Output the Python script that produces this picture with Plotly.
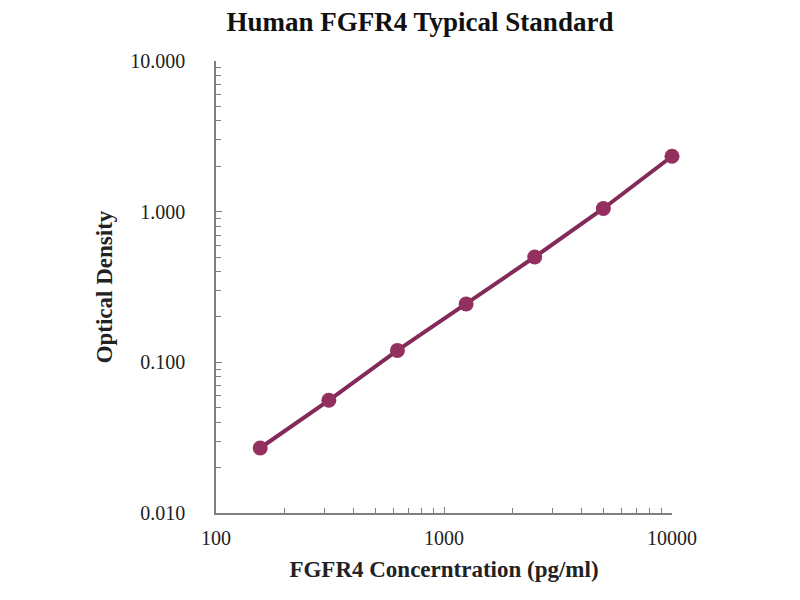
import plotly.graph_objects as go

# standard curve data
concentration = [156.25, 312.5, 625, 1250, 2500, 5000, 10000]
optical_density = [0.027, 0.056, 0.120, 0.244, 0.50, 1.05, 2.33]

x_ticks = [100, 1000, 10000]
x_ticktext = ['100', '1000', '10000']
y_ticks = [0.01, 0.1, 1, 10]
y_ticktext = ['0.010', '0.100', '1.000', '10.000']

line_color = '#842A58'
marker_color = '#93305F'
axis_color = '#808080'
serif = 'Liberation Serif, Times New Roman, serif'

fig = go.Figure()
fig.add_trace(go.Scatter(
    x=concentration, y=optical_density,
    mode='lines+markers',
    line=dict(color=line_color, width=4),
    marker=dict(color=marker_color, size=15),
    cliponaxis=False,
    showlegend=False,
))

# page body adds ~8px offset, margins compensate
fig.update_layout(
    width=800, height=600,
    paper_bgcolor='white', plot_bgcolor='white',
    margin=dict(l=208, r=136, t=53, b=95),
    font=dict(family=serif, color='#222222', size=20),
    title=dict(text='<b>Human FGFR4 Typical Standard</b>', x=0.515, xanchor='center',
               yref='container', y=0.978, yanchor='middle', font=dict(size=27, color='#111111')),
)

fig.update_xaxes(
    type='log', range=[2, 4],
    tickmode='array', tickvals=x_ticks, ticktext=x_ticktext,
    ticks='inside', ticklen=6, tickcolor=axis_color,
    showline=True, linecolor=axis_color, linewidth=1.5,
    showgrid=False, zeroline=False, ticklabelstandoff=6,
    minor=dict(ticks='inside', ticklen=5, tickcolor=axis_color, dtick='D1', showgrid=False),
    title=dict(text='<b>FGFR4 Concerntration (pg/ml)</b>', standoff=13, font=dict(size=23)),
)
fig.update_yaxes(
    type='log', range=[-2, 1],
    tickmode='array', tickvals=y_ticks, ticktext=y_ticktext,
    ticks='inside', ticklen=6, tickcolor=axis_color,
    showline=True, linecolor=axis_color, linewidth=1.5,
    showgrid=False, zeroline=False, ticklabelstandoff=25,
    minor=dict(ticks='inside', ticklen=5, tickcolor=axis_color, dtick='D1', showgrid=False),
    title=dict(text='<b>Optical Density</b>', standoff=11, font=dict(size=23)),
)

fig.write_html('out.html')
